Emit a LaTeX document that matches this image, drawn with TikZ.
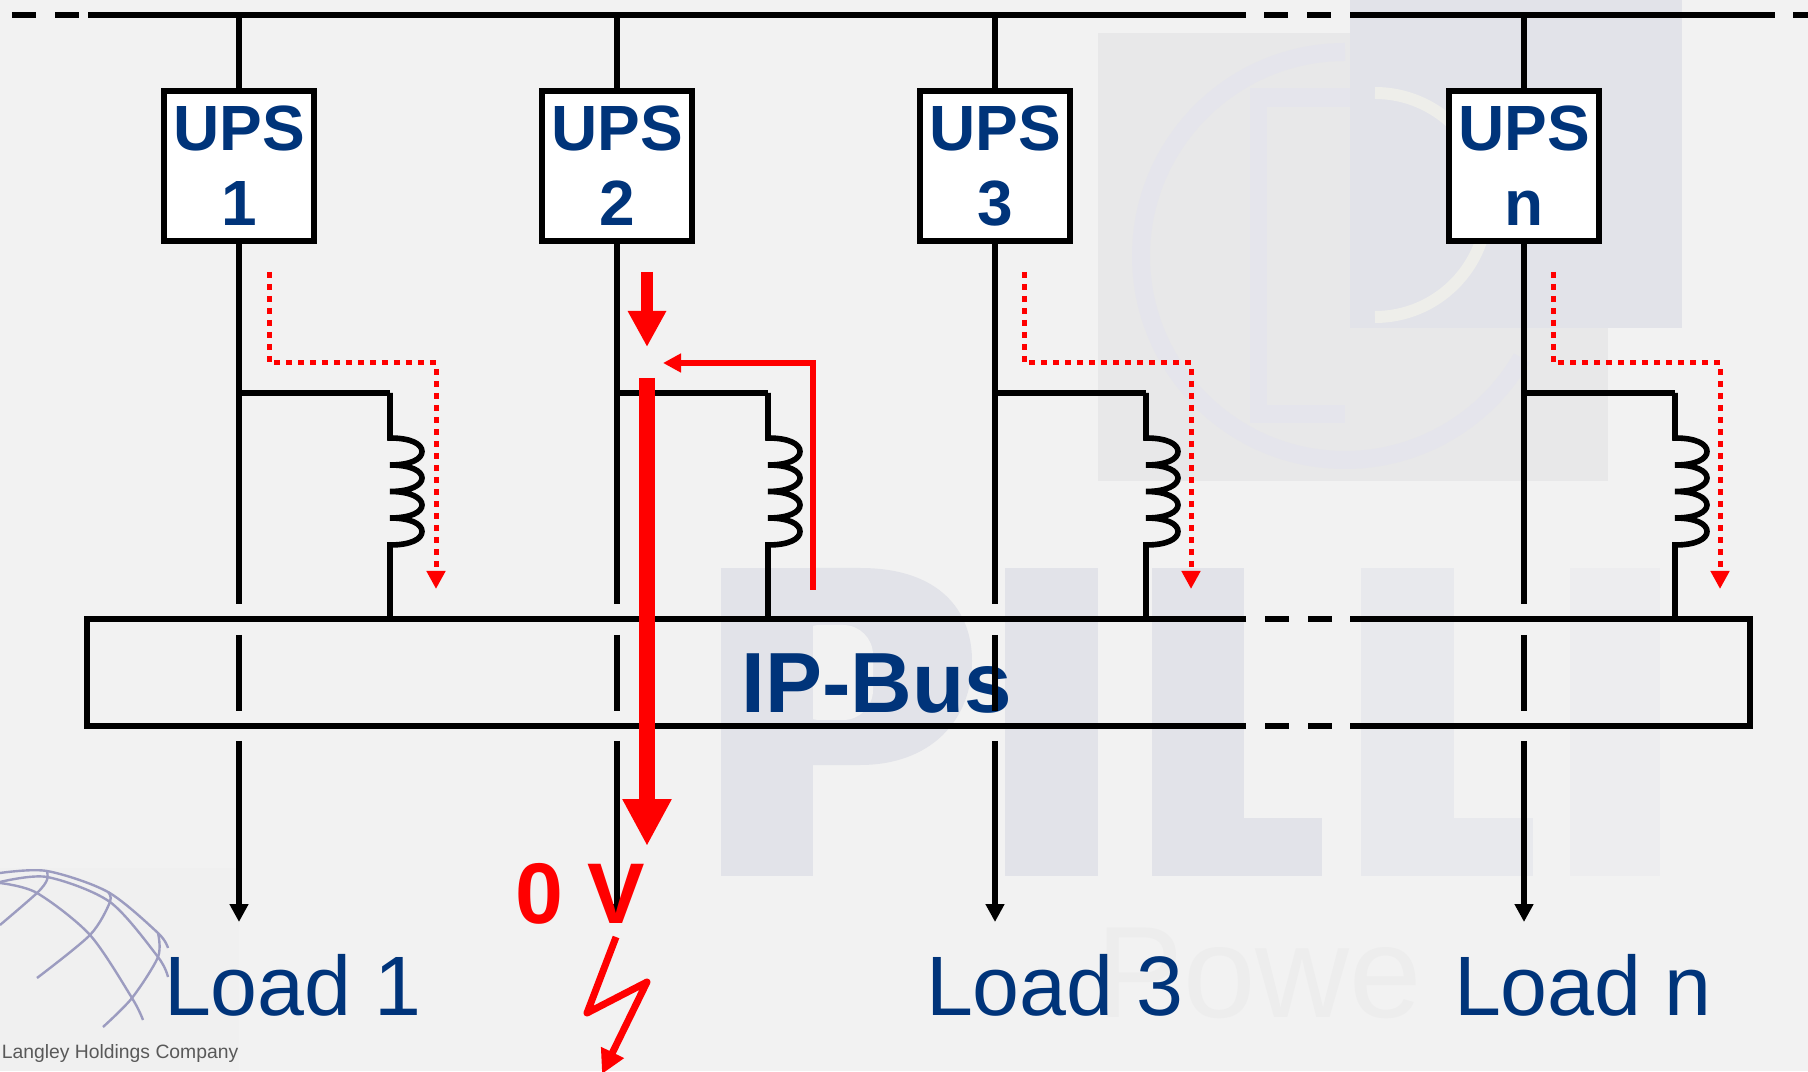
\documentclass[tikz,border=0pt]{standalone}
\usepackage{fontspec}
\setmainfont{Liberation Sans}
\usetikzlibrary{arrows.meta}
\definecolor{pagebg}{HTML}{F2F2F2}
\definecolor{labelblue}{HTML}{00347A}
\definecolor{markdark}{HTML}{E2E3E9}
\definecolor{marklight}{HTML}{E8E8E9}
\definecolor{markring}{HTML}{E5E5EC}
\definecolor{markarc}{HTML}{EEEEEA}
\definecolor{globeblue}{HTML}{9C9CC0}
\begin{document}
\begin{tikzpicture}[
        wire/.style={line width=0.056cm, black},
        dashbus/.style={wire, dash pattern=on 0.24cm off 0.19cm},
        ups/.style={rectangle, draw, line width=0.056cm, fill=white, minimum width=1.505cm, minimum height=1.505cm, inner sep=0pt, align=center, text=labelblue, font=\fontsize{18.2}{21.3}\selectfont\bfseries},
        load/.style={anchor=base, text=labelblue, inner sep=0pt, font=\fontsize{24}{26}\selectfont},
        loadtip/.style={-{Triangle[length=0.18cm, width=0.18cm]}},
        dotflow/.style={red, line width=0.05cm, dash pattern=on 0.06cm off 0.06cm, -{Triangle[length=0.18cm, width=0.18cm]}},
        globeline/.style={draw=globeblue, line width=0.024cm},
        coil/.pic={
            \draw[wire] (0,0) -- (0,-0.45) .. controls (0.21,-0.45) and (0.32,-0.51) .. (0.32,-0.585) .. controls (0.32,-0.66) and (0.21,-0.72) .. (0,-0.72)
                .. controls (0.21,-0.72) and (0.32,-0.78) .. (0.32,-0.85) .. controls (0.32,-0.92) and (0.21,-0.985) .. (0,-0.985)
                .. controls (0.21,-0.985) and (0.32,-1.05) .. (0.32,-1.12) .. controls (0.32,-1.19) and (0.21,-1.25) .. (0,-1.25)
                .. controls (0.21,-1.25) and (0.32,-1.31) .. (0.32,-1.385) .. controls (0.32,-1.46) and (0.21,-1.52) .. (0,-1.52) -- (0,-2.26);
        }
    ]
        \path[use as bounding box, fill=pagebg] (0,0) rectangle (18.08,10.71);

        % Watermark logo
        \fill[marklight] (10.98,5.90) rectangle (16.08,10.38);
        \fill[markdark] (13.50,7.43) rectangle (16.82,10.71);
        \draw[markring, line width=0.18cm] (13.45,10.19) arc[start angle=90, end angle=330, radius=2.04];
        \draw[markarc, line width=0.12cm] (13.75,9.78) arc[start angle=90, end angle=-90, radius=1.12];
        \fill[markring] (12.50,6.48) rectangle (12.67,9.83);
        \fill[markring] (12.50,9.64) rectangle (13.50,9.83);
        \fill[markring] (12.50,6.48) rectangle (13.45,6.66);

        % Watermark letters
        \fill[markdark] (7.21,1.95) rectangle (8.13,5.03);
        \fill[markdark] (8.13,5.03) -- (8.60,5.03) .. controls (9.40,5.03) and (9.72,4.60) .. (9.72,4.10) .. controls (9.72,3.50) and (9.30,3.06) .. (8.60,3.06) -- (8.13,3.06) -- cycle;
        \fill[pagebg, rounded corners=0.3cm] (7.90,3.51) rectangle (8.73,4.46);
        \fill[markdark] (7.21,3.51) rectangle (8.13,4.46);
        \fill[markdark] (10.05,1.95) rectangle (10.98,5.03);
        \fill[markdark] (11.52,1.95) rectangle (12.44,5.03);
        \fill[markdark] (11.52,1.95) rectangle (13.22,2.53);
        \fill[markdark!60!pagebg] (13.61,1.95) rectangle (14.54,5.03);
        \fill[markdark!60!pagebg] (13.61,1.95) rectangle (15.33,2.53);
        \fill[markdark!30!pagebg] (15.70,1.95) rectangle (16.60,5.03);
        \node[text=black!2!pagebg, anchor=base west, inner sep=0pt, font=\fontsize{37}{39}\selectfont] (power) at (10.96,0.54) {Powe};

        % Globe logo
        \fill[black!1!pagebg] (0,0) rectangle (2.39,2.03);
        \draw[globeline] plot[smooth] coordinates {(0,1.98) (0.47,2.00) (1.08,1.79) (1.58,1.38) (1.68,1.23)};
        \draw[globeline] plot[smooth] coordinates {(0,1.89) (0.47,1.94) (1.10,1.69) (1.58,1.14) (1.68,0.94)};
        \draw[globeline] plot[smooth] coordinates {(0,1.88) (0.37,1.78) (0.90,1.36) (1.32,0.73) (1.43,0.51)};
        \draw[globeline] plot[smooth] coordinates {(0.47,2.00) (0.47,1.91) (0.37,1.78) (0,1.46)};
        \draw[globeline] plot[smooth] coordinates {(1.08,1.79) (1.10,1.69) (0.90,1.36) (0.37,0.93)};
        \draw[globeline] plot[smooth] coordinates {(1.58,1.38) (1.58,1.14) (1.32,0.73) (1.03,0.44)};
        \node[text=black!65, anchor=base east, inner sep=0pt, font=\fontsize{5.5}{7}\selectfont] (langley) at (2.39,0.13) {Langley Holdings Company};

        % Reference levels
        \coordinate (topbus) at (0,10.56);
        \coordinate (bustop) at (0,4.52);
        \coordinate (busbot) at (0,3.45);
        \coordinate (gapa) at (0,4.67);
        \coordinate (gapb) at (0,4.36);
        \coordinate (gapc) at (0,3.60);
        \coordinate (gapd) at (0,3.30);
        \coordinate (tipy) at (0,1.49);
        \coordinate (breaka) at (12.46,0);
        \coordinate (breakb) at (13.50,0);

        % IP bus label and load labels
        \node[anchor=base, text=labelblue, inner sep=0pt, font=\fontsize{24.3}{26}\selectfont\bfseries] (ipbus) at (8.77,3.58) {IP-Bus};
        \node[load] (load1) at (2.93,0.56) {Load 1};
        \node[load] (load3) at (10.55,0.56) {Load 3};
        \node[load] (loadn) at (15.83,0.56) {Load n};

        % Top busbar
        \draw[dashbus] (0.12,10.56) -- (0.88,10.56);
        \draw[wire] (0.88,10.56) -- (12.46,10.56);
        \draw[dashbus] (12.64,10.56) -- (13.50,10.56);
        \draw[wire] (13.50,10.56) -- (17.75,10.56);
        \draw[dashbus] (17.93,10.56) -- (18.08,10.56);

        % IP bus box
        \draw[wire] (breaka |- bustop) -- (0.87,4.52) -- (0.87,3.45) -- (breaka |- busbot);
        \draw[wire] (breakb |- bustop) -- (17.50,4.52) -- (17.50,3.45) -- (breakb |- busbot);
        \draw[dashbus] (12.65,4.52) -- (breakb |- bustop);
        \draw[dashbus] (12.65,3.45) -- (breakb |- busbot);

        % UPS 1
        \node[ups] (u1) at (2.39,9.05) {UPS\\1};
        \coordinate (c1) at (3.90,6.78);
        \draw[wire] (u1 |- topbus) -- (u1.north);
        \draw[wire] (u1.south) -- (u1 |- gapa);
        \draw[wire] (u1 |- gapb) -- (u1 |- gapc);
        \draw[wire, loadtip] (u1 |- gapd) -- (u1 |- tipy);
        \draw[wire] (u1 |- c1) -- (c1);
        \pic at (c1) {coil};

        % UPS 2
        \node[ups] (u2) at (6.17,9.05) {UPS\\2};
        \coordinate (c2) at (7.68,6.78);
        \draw[wire] (u2 |- topbus) -- (u2.north);
        \draw[wire] (u2.south) -- (u2 |- gapa);
        \draw[wire] (u2 |- gapb) -- (u2 |- gapc);
        \draw[wire, loadtip] (u2 |- gapd) -- (u2 |- tipy);
        \draw[wire] (u2 |- c2) -- (c2);
        \pic at (c2) {coil};

        % UPS 3
        \node[ups] (u3) at (9.95,9.05) {UPS\\3};
        \coordinate (c3) at (11.46,6.78);
        \draw[wire] (u3 |- topbus) -- (u3.north);
        \draw[wire] (u3.south) -- (u3 |- gapa);
        \draw[wire] (u3 |- gapb) -- (u3 |- gapc);
        \draw[wire, loadtip] (u3 |- gapd) -- (u3 |- tipy);
        \draw[wire] (u3 |- c3) -- (c3);
        \pic at (c3) {coil};

        % UPS n
        \node[ups] (un) at (15.24,9.05) {UPS\\n};
        \coordinate (cn) at (16.75,6.78);
        \draw[wire] (un |- topbus) -- (un.north);
        \draw[wire] (un.south) -- (un |- gapa);
        \draw[wire] (un |- gapb) -- (un |- gapc);
        \draw[wire, loadtip] (un |- gapd) -- (un |- tipy);
        \draw[wire] (un |- cn) -- (cn);
        \pic at (cn) {coil};

        % Normal current paths
        \coordinate (d1a) at (2.69,7.99);
        \coordinate (d1b) at (4.36,4.82);
        \coordinate (d3a) at (10.24,7.99);
        \coordinate (d3b) at (11.91,4.82);
        \coordinate (dna) at (15.53,7.99);
        \coordinate (dnb) at (17.20,4.82);
        \draw[dotflow] (d1a) |- (4.36,7.08) -- (d1b);
        \draw[dotflow] (d3a) |- (11.91,7.08) -- (d3b);
        \draw[dotflow] (dna) |- (17.20,7.08) -- (dnb);

        % Fault current on UPS 2
        \coordinate (fa) at (6.47,7.99);
        \coordinate (fb) at (6.47,7.24);
        \coordinate (fc) at (6.47,6.93);
        \coordinate (fd) at (6.47,2.25);
        \coordinate (fe) at (8.13,4.81);
        \coordinate (ff) at (6.63,7.08);
        \draw[red, line width=0.12cm, -{Triangle[length=0.36cm, width=0.36cm]}] (fa) -- (fb);
        \draw[red, line width=0.16cm, -{Triangle[length=0.47cm, width=0.46cm]}] (fc) -- (fd);
        \draw[red, line width=0.056cm, -{Triangle[length=0.18cm, width=0.18cm]}] (fe) |- (ff);

        % Short circuit
        \node[anchor=base, text=red, inner sep=0pt, font=\fontsize{24.5}{26}\selectfont\bfseries] (zerov) at (5.80,1.48) {0 V};
        \coordinate (za) at (6.16,1.34);
        \coordinate (zb) at (5.87,0.58);
        \coordinate (zc) at (6.47,0.89);
        \coordinate (zd) at (6.02,-0.03);
        \draw[red, line width=0.07cm, line join=round, -{Triangle[length=0.24cm, width=0.24cm]}] (za) -- (zb) -- (zc) -- (zd);
    \end{tikzpicture}
\end{document}
